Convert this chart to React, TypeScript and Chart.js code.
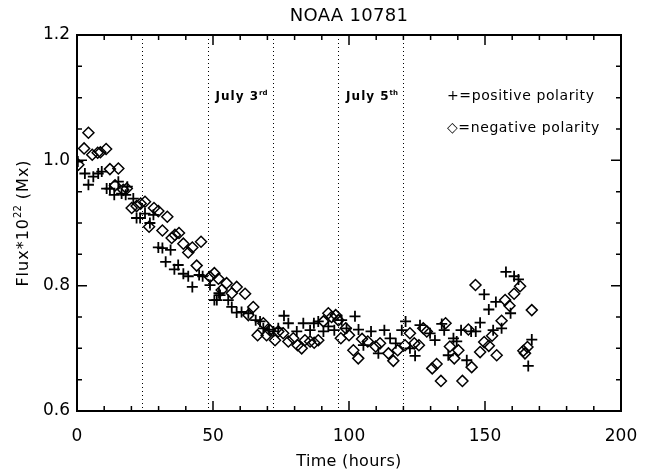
import React, { useEffect, useRef } from "react";
import { Chart, registerables } from "chart.js";

Chart.register(...registerables);

const TITLE = "NOAA 10781";
const X_TITLE = "Time (hours)";
const Y_TITLE_BASE = "Flux*10";
const Y_TITLE_SUP = "22";
const Y_TITLE_UNIT = " (Mx)";
const X_MIN = 0;
const X_MAX = 200;
const Y_MIN = 0.6;
const Y_MAX = 1.2;
const X_STEP = 50;
const Y_STEP = 0.2;
const X_MINOR = 10;
const Y_MINOR = 0.05;
const dayBoundaries = [24, 48, 72, 96, 120];
const dayLabelAfter = [48, 96];
const dayLabels = ["July 3", "July 5"];
const daySuffixes = ["rd", "th"];
const legendLabels = ["+=positive polarity", "\u25C7=negative polarity"];

const posTime = [0.3, 2.9, 4.2, 6.0, 7.8, 9.1, 10.9, 12.1, 13.7, 15.2, 16.4, 17.9, 18.5, 20.7, 21.9, 23.2, 25.0, 26.8, 28.1, 29.9, 31.4, 32.6, 34.4, 35.8, 37.2, 39.1, 40.9, 42.4, 44.9, 46.2, 48.9, 50.5, 51.4, 52.2, 52.6, 55.6, 56.9, 58.7, 60.5, 63.0, 65.7, 67.3, 68.5, 70.6, 72.2, 74.0, 76.1, 77.7, 80.8, 83.2, 85.7, 87.1, 88.7, 90.6, 92.4, 94.6, 97.3, 99.1, 102.2, 103.5, 105.3, 108.1, 110.8, 113.0, 115.1, 117.2, 119.4, 120.8, 122.4, 124.3, 126.1, 129.8, 131.6, 134.1, 135.0, 136.5, 138.4, 139.6, 141.2, 143.3, 144.9, 146.6, 148.2, 149.7, 151.4, 153.0, 154.0, 156.1, 157.7, 159.4, 160.7, 162.3, 165.9, 167.2];
const posFlux = [0.998, 0.979, 0.961, 0.974, 0.979, 0.982, 0.955, 0.955, 0.945, 0.966, 0.947, 0.945, 0.958, 0.939, 0.908, 0.908, 0.915, 0.900, 0.913, 0.861, 0.860, 0.838, 0.857, 0.826, 0.833, 0.819, 0.815, 0.798, 0.817, 0.815, 0.801, 0.777, 0.777, 0.788, 0.785, 0.777, 0.766, 0.757, 0.758, 0.756, 0.745, 0.743, 0.732, 0.730, 0.727, 0.732, 0.752, 0.740, 0.727, 0.740, 0.729, 0.740, 0.743, 0.727, 0.735, 0.729, 0.745, 0.732, 0.751, 0.730, 0.705, 0.727, 0.692, 0.729, 0.716, 0.708, 0.729, 0.743, 0.700, 0.688, 0.737, 0.724, 0.713, 0.739, 0.729, 0.689, 0.716, 0.711, 0.729, 0.681, 0.727, 0.727, 0.741, 0.786, 0.762, 0.729, 0.774, 0.732, 0.822, 0.756, 0.815, 0.810, 0.672, 0.714];

const negTime = [0.5, 2.6, 4.2, 5.6, 7.6, 8.6, 10.7, 12.1, 14.0, 15.2, 17.0, 18.3, 20.1, 21.9, 23.4, 25.0, 26.5, 28.3, 29.9, 31.4, 33.2, 34.8, 36.0, 37.5, 39.1, 40.9, 42.4, 44.0, 45.6, 48.9, 50.5, 52.0, 53.2, 55.0, 56.9, 58.7, 61.8, 63.0, 64.8, 66.4, 68.5, 69.7, 70.9, 72.8, 74.0, 75.8, 77.7, 79.5, 81.1, 82.6, 83.8, 85.7, 87.2, 88.7, 90.6, 92.4, 93.6, 95.1, 96.1, 97.0, 98.8, 100.0, 101.6, 103.4, 104.8, 106.9, 109.8, 111.4, 114.5, 116.3, 117.9, 120.6, 122.4, 124.0, 125.7, 127.3, 128.6, 130.6, 132.2, 133.8, 135.5, 137.1, 138.7, 140.2, 141.7, 143.9, 145.1, 146.5, 148.2, 149.7, 151.4, 152.6, 154.3, 156.1, 157.4, 159.0, 160.7, 162.9, 164.1, 164.7, 165.6, 167.2];
const negFlux = [0.993, 1.019, 1.044, 1.009, 1.012, 1.013, 1.018, 0.986, 0.960, 0.987, 0.953, 0.955, 0.924, 0.927, 0.931, 0.934, 0.894, 0.924, 0.919, 0.888, 0.910, 0.876, 0.881, 0.884, 0.867, 0.853, 0.861, 0.832, 0.870, 0.814, 0.820, 0.811, 0.793, 0.804, 0.788, 0.798, 0.787, 0.753, 0.766, 0.721, 0.740, 0.721, 0.729, 0.713, 0.727, 0.724, 0.711, 0.716, 0.705, 0.700, 0.713, 0.711, 0.709, 0.713, 0.743, 0.756, 0.750, 0.753, 0.745, 0.716, 0.732, 0.721, 0.697, 0.684, 0.715, 0.711, 0.703, 0.708, 0.692, 0.680, 0.697, 0.705, 0.724, 0.708, 0.705, 0.732, 0.727, 0.668, 0.675, 0.648, 0.740, 0.703, 0.684, 0.697, 0.648, 0.730, 0.670, 0.801, 0.694, 0.710, 0.704, 0.720, 0.689, 0.744, 0.777, 0.768, 0.787, 0.799, 0.696, 0.692, 0.702, 0.761];

const FONT = "'DejaVu Sans', 'Liberation Sans', sans-serif";

type Part = { t: string; sup?: boolean };

function drawRich(ctx: CanvasRenderingContext2D, parts: Part[], x: number, y: number, size: number, weight: string, spacing: string) {
  let cx = x;
  for (const p of parts) {
    const s = p.sup ? Math.round(size * 0.62) : size;
    ctx.font = `${weight} ${s}px ${FONT}`;
    (ctx as any).letterSpacing = p.sup ? "0px" : spacing;
    ctx.fillText(p.t, cx, p.sup ? y - size * 0.42 : y);
    cx += ctx.measureText(p.t).width;
  }
  return cx - x;
}

function measureRich(ctx: CanvasRenderingContext2D, parts: Part[], size: number, weight: string, spacing: string) {
  let w = 0;
  for (const p of parts) {
    const s = p.sup ? Math.round(size * 0.62) : size;
    ctx.font = `${weight} ${s}px ${FONT}`;
    (ctx as any).letterSpacing = p.sup ? "0px" : spacing;
    w += ctx.measureText(p.t).width;
  }
  return w;
}

const decorPlugin = {
  id: "decor",
  beforeDatasetsDraw(chart: any) {
    const { ctx, chartArea: a, scales } = chart;
    const xs = scales.x;
    ctx.save();
    ctx.strokeStyle = "#000";
    ctx.lineWidth = 1;
    ctx.setLineDash([1, 3]);
    for (const d of dayBoundaries) {
      const px = Math.round(xs.getPixelForValue(d)) + 0.5;
      ctx.beginPath();
      ctx.moveTo(px, a.top);
      ctx.lineTo(px, a.bottom);
      ctx.stroke();
    }
    ctx.restore();
  },
  afterDraw(chart: any) {
    const { ctx, chartArea: a, scales } = chart;
    const xs = scales.x;
    const ys = scales.y;
    ctx.save();
    ctx.strokeStyle = "#000";
    ctx.fillStyle = "#000";
    ctx.lineWidth = 1.5;
    const nx = Math.round((X_MAX - X_MIN) / X_MINOR);
    const perX = Math.round(X_STEP / X_MINOR);
    for (let i = 0; i <= nx; i++) {
      const v = X_MIN + i * X_MINOR;
      const px = xs.getPixelForValue(v);
      const len = i % perX === 0 ? 10 : 5;
      ctx.beginPath();
      ctx.moveTo(px, a.bottom);
      ctx.lineTo(px, a.bottom - len);
      ctx.moveTo(px, a.top);
      ctx.lineTo(px, a.top + len);
      ctx.stroke();
    }
    const ny = Math.round((Y_MAX - Y_MIN) / Y_MINOR);
    const perY = Math.round(Y_STEP / Y_MINOR);
    for (let i = 0; i <= ny; i++) {
      const v = Y_MIN + i * Y_MINOR;
      const py = ys.getPixelForValue(v);
      const len = i % perY === 0 ? 10 : 5;
      ctx.beginPath();
      ctx.moveTo(a.left, py);
      ctx.lineTo(a.left + len, py);
      ctx.moveTo(a.right, py);
      ctx.lineTo(a.right - len, py);
      ctx.stroke();
    }
    ctx.lineWidth = 2;
    ctx.strokeRect(a.left, a.top, a.right - a.left, a.bottom - a.top);

    ctx.textBaseline = "alphabetic";
    ctx.textAlign = "center";
    ctx.font = `18px ${FONT}`;
    (ctx as any).letterSpacing = "0.3px";
    ctx.fillText(TITLE, (a.left + a.right) / 2, 21);

    ctx.font = `16px ${FONT}`;
    (ctx as any).letterSpacing = "0.3px";
    ctx.fillText(X_TITLE, (a.left + a.right) / 2, 466);

    ctx.textAlign = "left";
    const yParts: Part[] = [{ t: Y_TITLE_BASE }, { t: Y_TITLE_SUP, sup: true }, { t: Y_TITLE_UNIT }];
    const yw = measureRich(ctx, yParts, 16, "normal", "1px");
    ctx.save();
    ctx.translate(28, (a.top + a.bottom) / 2);
    ctx.rotate(-Math.PI / 2);
    drawRich(ctx, yParts, -yw / 2, 0, 16, "normal", "1px");
    ctx.restore();

    for (let i = 0; i < dayLabels.length; i++) {
      const px = xs.getPixelForValue(dayLabelAfter[i]) + 8;
      drawRich(ctx, [{ t: dayLabels[i] }, { t: daySuffixes[i], sup: true }], px, 100, 12, "bold", "1px");
    }

    ctx.font = `14px ${FONT}`;
    (ctx as any).letterSpacing = "0.6px";
    ctx.fillText(legendLabels[0], 447, 100);
    ctx.fillText(legendLabels[1], 447, 132);
    ctx.restore();
  },
};

export default function App() {
  const ref = useRef<HTMLCanvasElement | null>(null);
  useEffect(() => {
    if (!ref.current) return;
    const chart = new Chart(ref.current, {
      type: "scatter",
      data: {
        datasets: [
          {
            label: "positive polarity",
            data: posTime.map((t, i) => ({ x: t, y: posFlux[i] })),
            pointStyle: "cross",
            pointRadius: 5.5,
            pointHoverRadius: 5.5,
            pointBorderWidth: 1.8,
            pointBorderColor: "#000",
            pointBackgroundColor: "#000",
            borderColor: "#000",
          },
          {
            label: "negative polarity",
            data: negTime.map((t, i) => ({ x: t, y: negFlux[i] })),
            pointStyle: "rectRot",
            pointRadius: 5.5,
            pointHoverRadius: 5.5,
            pointBorderWidth: 1.5,
            pointBorderColor: "#000",
            pointBackgroundColor: "rgba(0,0,0,0)",
            borderColor: "#000",
          },
        ],
      },
      options: {
        responsive: false,
        animation: false,
        layout: { padding: { left: 0, right: 32, top: 35, bottom: 0 } },
        plugins: { legend: { display: false }, tooltip: { enabled: false }, title: { display: false } },
        scales: {
          x: {
            type: "linear",
            min: X_MIN,
            max: X_MAX,
            grid: { display: false, drawTicks: false },
            border: { display: false },
            ticks: {
              stepSize: X_STEP,
              color: "#000",
              padding: 15,
              maxRotation: 0,
              font: { family: FONT, size: 17 },
              callback: (v: any) => String(Math.round(Number(v))),
            },
            afterFit: (s: any) => {
              s.height = 59;
            },
          },
          y: {
            type: "linear",
            min: Y_MIN,
            max: Y_MAX,
            grid: { display: false, drawTicks: false },
            border: { display: false },
            ticks: {
              stepSize: Y_STEP,
              color: "#000",
              padding: 7,
              font: { family: FONT, size: 17 },
              callback: (v: any) => Number(v).toFixed(1),
            },
            afterFit: (s: any) => {
              s.width = 77;
            },
          },
        },
      },
      plugins: [decorPlugin],
    });
    return () => chart.destroy();
  }, []);
  return (
    <div style={{ position: "absolute", left: 0, top: 0, width: 653, height: 470, background: "#fff" }}>
      <canvas ref={ref} width={653} height={470} style={{ display: "block" }} />
    </div>
  );
}
